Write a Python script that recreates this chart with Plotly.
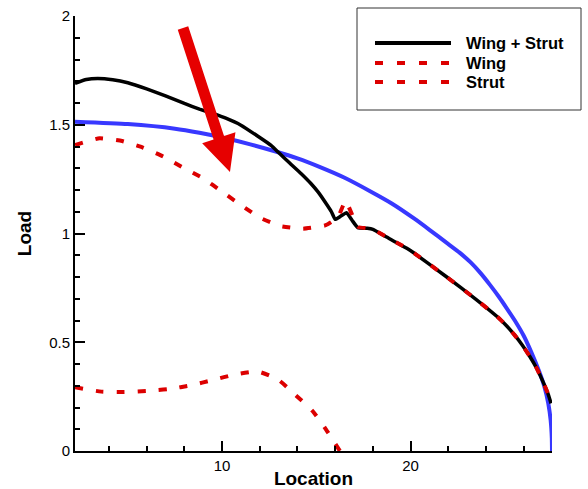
import math
import plotly.graph_objects as go

# Spanwise load distributions
ellipse_x = [2.2, 5.0, 7.5, 8.8, 10.2, 11.5, 12.8, 14.0, 15.2, 16.5, 17.9, 19.0, 20.2, 21.0,
             21.9, 22.6, 23.2, 23.7, 24.2, 24.7, 25.1, 25.6, 26.0, 26.4, 26.8, 27.1, 27.3,
             27.43, 27.49, 27.5]
ellipse_y = [1.514, 1.503, 1.482, 1.463, 1.438, 1.41, 1.378, 1.345, 1.305, 1.256, 1.192,
             1.138, 1.068, 1.017, 0.958, 0.912, 0.866, 0.819, 0.765, 0.707, 0.656, 0.59,
             0.53, 0.455, 0.37, 0.295, 0.22, 0.14, 0.06, 0.0]

total_x = [2.2, 2.8, 3.4, 4.2, 5.0, 6.0, 7.0, 8.0, 8.8, 9.5, 10.2, 11.0, 11.9, 12.6, 13.0,
           13.6, 14.2, 14.7, 15.1, 15.5, 15.8, 16.0, 16.3, 16.6, 16.9, 17.2, 17.7, 18.0,
           18.7, 19.8, 20.2, 21.9, 23.4, 24.6, 25.1, 25.5, 25.9, 26.3, 26.7, 27.05, 27.3,
           27.45]
total_y = [1.69, 1.708, 1.713, 1.707, 1.693, 1.665, 1.633, 1.598, 1.572, 1.552, 1.53,
           1.498, 1.447, 1.405, 1.372, 1.323, 1.275, 1.231, 1.19, 1.14, 1.1, 1.065, 1.08,
           1.096, 1.06, 1.027, 1.024, 1.019, 0.985, 0.932, 0.909, 0.801, 0.702, 0.617,
           0.575, 0.535, 0.49, 0.438, 0.378, 0.313, 0.26, 0.219]

wing_x = [2.2, 3.5, 4.7, 5.8, 6.9, 8.0, 9.0, 10.0, 11.0, 12.0, 13.1, 14.3, 15.5, 16.15,
          16.55, 17.2, 17.7, 18.0, 18.7, 19.8, 20.2, 21.9, 23.4, 24.6, 25.1, 25.5, 25.9,
          26.3, 26.7, 27.05, 27.3, 27.45]
wing_y = [1.407, 1.438, 1.425, 1.395, 1.353, 1.30, 1.254, 1.192, 1.131, 1.073, 1.034,
          1.022, 1.038, 1.075, 1.15, 1.031, 1.024, 1.019, 0.985, 0.932, 0.909, 0.801,
          0.702, 0.617, 0.575, 0.535, 0.49, 0.438, 0.378, 0.313, 0.26, 0.219]

strut_x = [2.2, 3.6, 4.8, 6.0, 7.2, 8.4, 9.5, 10.7, 11.9, 13.0, 13.9, 14.8, 15.5, 16.25]
strut_y = [0.293, 0.273, 0.271, 0.276, 0.285, 0.303, 0.326, 0.352, 0.365, 0.326, 0.257,
           0.184, 0.101, 0.0]

series_names = ["Wing + Strut", "Wing", "Strut"]

x_range = [2.2, 27.5]
y_range = [0, 2]

# Pointer arrow: tip in data units, body described in screen pixels
ARROW_TIP = (10.42, 1.283)

RED = "#dc0000"
BLACK = "black"
FONT = "Liberation Sans, Arial, sans-serif"
DASH = "8px,13px"

# Plot-area geometry in pixels (used to place the legend box in paper units)
W, H = 588, 489
ML, MR, MT, MB = 75, 36, 16, 38
PW, PH = W - ML - MR, H - MT - MB


def paper_x(px):
    return (px - ML) / PW


def paper_y(py):
    return (H - MB - py) / PH


fig = go.Figure()

fig.add_trace(go.Scatter(
    x=ellipse_x, y=ellipse_y, mode="lines", showlegend=False,
    line=dict(color="#3838ff", width=4, shape="spline", smoothing=0.5),
))
fig.add_trace(go.Scatter(
    x=total_x, y=total_y, mode="lines", name=series_names[0], showlegend=False,
    line=dict(color=BLACK, width=3.5, shape="spline", smoothing=0.4),
))
fig.add_trace(go.Scatter(
    x=wing_x, y=wing_y, mode="lines", name=series_names[1], showlegend=False,
    line=dict(color=RED, width=4, dash=DASH, shape="spline", smoothing=0.4),
))
fig.add_trace(go.Scatter(
    x=strut_x, y=strut_y, mode="lines", name=series_names[2], showlegend=False,
    line=dict(color=RED, width=4, dash=DASH, shape="spline", smoothing=0.6),
))

# Arrow polygon (screen offsets from the tip, y pointing down)
dx, dy = 47.0, 144.0
length = math.hypot(dx, dy)
ux, uy = dx / length, dy / length
nx, ny = uy, -ux
head_len, head_half, shaft_half = 36.0, 17.5, 5.5
bx, by = -head_len * ux, -head_len * uy
tx, ty = -length * ux, -length * uy
pts = [
    (0, 0),
    (bx + head_half * nx, by + head_half * ny),
    (bx + shaft_half * nx, by + shaft_half * ny),
    (tx + shaft_half * nx, ty + shaft_half * ny),
    (tx - shaft_half * nx, ty - shaft_half * ny),
    (bx - shaft_half * nx, by - shaft_half * ny),
    (bx - head_half * nx, by - head_half * ny),
]
path = "M" + " L".join(f"{px:.2f},{-py:.2f}" for px, py in pts) + " Z"
fig.add_shape(
    type="path", path=path, xref="x", yref="y",
    xsizemode="pixel", ysizemode="pixel",
    xanchor=ARROW_TIP[0], yanchor=ARROW_TIP[1],
    fillcolor="#e60000", line=dict(width=0), layer="above",
)

# Boxed legend: frame, sample strokes and bold labels
fig.add_shape(
    type="rect", xref="paper", yref="paper",
    x0=paper_x(357), x1=paper_x(581), y0=paper_y(110), y1=paper_y(8),
    line=dict(color="#333333", width=1), fillcolor="white", layer="above",
)
legend_styles = [
    dict(color=BLACK, width=4, dash="solid"),
    dict(color=RED, width=4, dash="8px,14px"),
    dict(color=RED, width=4, dash="8px,14px"),
]
legend_rows = [43, 63, 82]
for name, style, row in zip(series_names, legend_styles, legend_rows):
    fig.add_shape(
        type="line", xref="paper", yref="paper",
        x0=paper_x(375), x1=paper_x(451), y0=paper_y(row), y1=paper_y(row),
        line=style, layer="above",
    )
    fig.add_annotation(
        xref="paper", yref="paper", x=paper_x(464), y=paper_y(row),
        xanchor="left", yanchor="middle", showarrow=False, text=name,
        font=dict(family=FONT, size=16.5, color="black", weight="bold"),
    )

axis_common = dict(
    showline=True, linecolor="black", linewidth=2, mirror=False,
    showgrid=False, zeroline=False, automargin=False,
    ticks="inside", ticklen=10, tickwidth=2, tickcolor="black",
    tickfont=dict(family=FONT, size=15, color="black"),
)

fig.update_xaxes(
    range=x_range, tick0=0, dtick=10,
    minor=dict(dtick=2, ticks="inside", ticklen=5, tickwidth=1.5, tickcolor="black"),
    title=dict(text="Location", font=dict(family=FONT, size=19, color="black", weight="bold"),
               standoff=5),
    **axis_common,
)
fig.update_yaxes(
    range=y_range, tick0=0, dtick=0.5,
    minor=dict(dtick=0.1, ticks="inside", ticklen=5, tickwidth=1.5, tickcolor="black"),
    title=dict(text="Load", font=dict(family=FONT, size=19, color="black", weight="bold"),
               standoff=12),
    **axis_common,
)

fig.update_layout(
    template="none",
    width=W, height=H,
    margin=dict(l=ML, r=MR, t=MT, b=MB),
    plot_bgcolor="white", paper_bgcolor="white",
    showlegend=False,
)

fig.write_html("out.html")
